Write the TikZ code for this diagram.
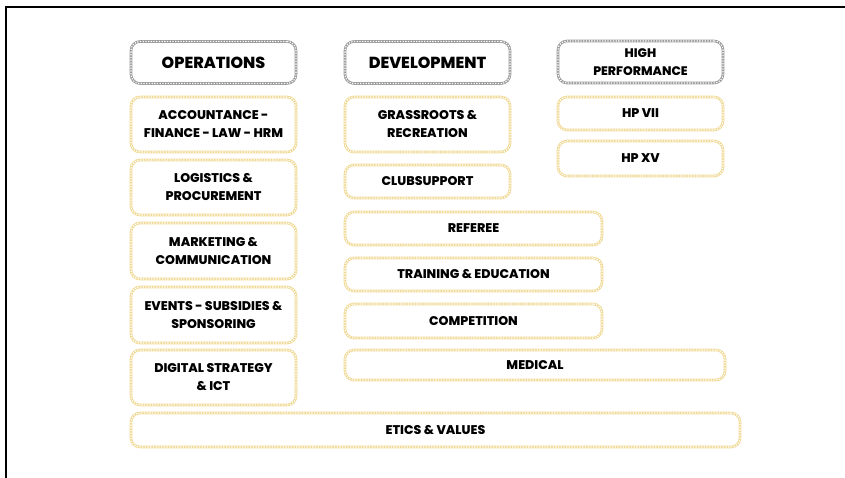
\documentclass[tikz,border=0pt]{standalone}
\usepackage{fontspec}
\setmainfont{Poppins}[BoldFont={Poppins ExtraBold}]
\definecolor{chaingray}{RGB}{155,155,155}
\definecolor{chainyellow}{RGB}{240,218,150}
\tikzset{
  x=1pt, y=-1pt,
  chainbox/.style={draw=#1, line width=2.6pt, rounded corners=9pt,
    postaction={draw=white, line width=1.1pt, dash pattern=on 1.3pt off 1.4pt},
    inner sep=0pt, align=center, font=\bfseries\fontsize{12.6}{18}\selectfont, text=black},
  headbox/.style={chainbox=chaingray, font=\bfseries\fontsize{16}{18}\selectfont},
  itembox/.style={chainbox=chainyellow},
  headsmall/.style={chainbox=chaingray, font=\bfseries\fontsize{12.4}{18}\selectfont},
}
\begin{document}
\begin{tikzpicture}
\useasboundingbox (0,0) rectangle (845,477);
\draw[line width=2pt] (6,500) coordinate (fl) -- (6,7) coordinate (ftl) -- (860,7) coordinate (fr);
% headers
\node[headbox, minimum width=165, minimum height=42] (ops) at (213.5,62.5) {OPERATIONS};
\node[headbox, minimum width=165, minimum height=42] (dev) at (427.5,62.5) {DEVELOPMENT};
\node[headsmall, minimum width=165, minimum height=42] (hp) at (640.5,62) {HIGH\\PERFORMANCE};
% operations column
\node[itembox, minimum width=165, minimum height=55] (acc) at (213.5,124.5) {ACCOUNTANCE -\\FINANCE - LAW - HRM};
\node[itembox, minimum width=165, minimum height=55] (log) at (213.5,187.5) {LOGISTICS \&\\PROCUREMENT};
\node[itembox, minimum width=165, minimum height=56] (mkt) at (213.5,251) {MARKETING \&\\COMMUNICATION};
\node[itembox, minimum width=165, minimum height=56] (evt) at (213.5,315) {EVENTS - SUBSIDIES \&\\SPONSORING};
\node[itembox, minimum width=165, minimum height=55] (dig) at (213.5,377.5) {DIGITAL STRATEGY\\\& ICT};
% development column
\node[itembox, minimum width=165, minimum height=55] (grass) at (427.5,124.5) {GRASSROOTS \&\\RECREATION};
\node[itembox, minimum width=165, minimum height=33] (club) at (427.5,181.5) {CLUBSUPPORT};
\node[itembox, minimum width=257, minimum height=33] (ref) at (473.5,228.5) {REFEREE};
\node[itembox, minimum width=257, minimum height=33] (train) at (473.5,274.5) {TRAINING \& EDUCATION};
\node[itembox, minimum width=257, minimum height=34] (comp) at (473.5,321) {COMPETITION};
\node[itembox, minimum width=380, minimum height=30] (med) at (535,365) {MEDICAL};
% high performance column
\node[itembox, minimum width=165, minimum height=33] (hp7) at (640.5,113.5) {HP VII};
\node[itembox, minimum width=165, minimum height=35] (hp15) at (640.5,158.5) {HP XV};
% bottom
\node[itembox, minimum width=609, minimum height=34] (etics) at (435.5,430) {ETICS \& VALUES};
\end{tikzpicture}
\end{document}
